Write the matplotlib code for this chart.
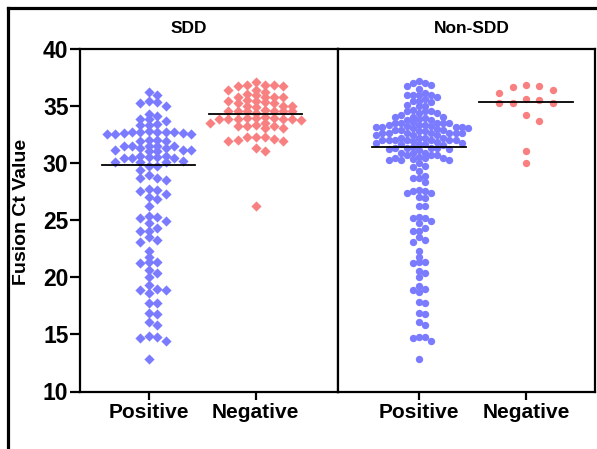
import numpy as np
import matplotlib
matplotlib.use('Agg')
import matplotlib.pyplot as plt
from matplotlib.lines import Line2D

BLUE, RED = '#7B7BFF', '#F88080'
plt.rcParams.update({'font.family': 'Liberation Sans', 'font.weight': 'bold'})

categorias = ['Positive', 'Negative']
paneles = ['SDD', 'Non-SDD']
yticks = [10, 15, 20, 25, 30, 35, 40]

sdd_pos = [
    36.2, 35.9, 35.3, 35.2, 35.4, 35.0, 34.3, 34.1, 33.8, 33.8, 33.7, 33.3, 33.3, 33.4,
    32.7, 32.7, 32.5, 32.5, 32.6, 32.8, 32.7, 32.5, 32.6, 32.7, 32.7,
    32.0, 32.0, 31.9, 31.95,
    31.5, 31.5, 31.5, 31.5, 31.5, 31.3, 31.3,
    31.0, 31.0, 31.1, 31.1, 31.1,
    30.5, 30.5, 30.4, 30.6, 30.6, 30.4, 30.4,
    30.1, 30.1, 30.1, 30.2,
    29.7, 29.7, 29.4, 28.9, 28.7, 28.7, 28.5,
    27.7, 27.25, 27.0, 27.5, 27.6, 26.8, 26.2,
    25.15, 24.9, 25.35, 25.25, 24.7, 24.3, 24.0, 24.0,
    23.5, 23.1, 23.25, 22.3, 21.8, 21.2, 21.3, 21.3,
    20.4, 20.6, 20.0, 19.0, 19.3, 18.9, 18.85, 18.6,
    17.7, 17.75, 16.8, 16.9, 16.1, 15.8,
    14.8, 14.4, 14.85, 14.7, 12.8]

sdd_neg = [
    36.8, 36.8, 37.1, 36.7, 36.8, 36.75,
    36.35, 36.4, 36.2, 36.05,
    35.9, 35.8, 35.8, 35.8,
    35.5, 35.25, 35.4, 35.4, 35.3, 35.75,
    34.95, 34.95, 34.95, 35.2, 34.9,
    34.65, 34.5, 34.5, 34.5, 34.5, 34.5, 34.5, 34.35,
    33.75, 33.9, 33.9, 33.8, 33.85, 33.9, 34.05, 33.8, 33.8, 33.8,
    33.2, 33.2, 33.35, 33.05, 33.5, 33.5, 33.05, 33.2,
    32.3, 32.0, 32.1, 31.9, 32.3, 32.3,
    31.3, 31.0, 31.9, 26.2]

non_pos = [
    37.15, 36.95, 36.95, 36.85, 36.7, 36.45,
    35.95, 36.15, 35.9, 35.9, 35.8, 35.9,
    35.55, 35.4, 35.45, 35.3,
    35.1, 34.95, 35.0,
    34.5, 34.5, 34.5, 34.65, 34.35, 34.2, 34.35,
    33.85, 33.75, 34.05, 34.05, 33.9, 33.75, 34.05,
    33.35, 33.5, 33.55, 33.5, 33.35, 33.5, 33.5, 33.5, 33.35,
    32.9, 33.05, 32.9, 33.05, 32.9, 32.95, 33.15, 33.2, 33.15, 33.2, 33.15, 33.15,
    32.6, 32.6, 32.6, 32.45, 32.45, 32.6, 32.6, 32.6, 32.45, 32.6, 32.75, 32.75,
    32.0, 32.0, 32.2, 32.0, 32.0, 32.0, 32.15, 32.0, 32.2, 32.0, 32.15,
    31.75, 31.65, 31.8, 31.65, 31.65, 31.6, 31.75, 31.9,
    31.3, 31.3, 31.2, 31.3, 31.35, 31.3, 31.2, 31.15,
    30.85, 30.7, 30.7, 30.85, 30.9, 30.7, 30.55, 30.4, 30.4,
    30.25, 30.25, 30.25, 30.3, 30.4,
    29.95, 29.7, 29.6, 29.25,
    28.85, 28.65, 28.65, 28.35,
    27.65, 27.35, 27.5, 27.4, 27.55, 27.05, 26.9,
    26.2, 26.2, 25.15, 24.95, 25.3, 25.15, 24.7, 24.3, 24.0, 24.0,
    23.5, 23.1, 23.25, 22.3, 21.8, 21.2, 21.3, 21.3,
    20.4, 20.5, 20.0, 18.95, 19.2, 18.7, 18.85,
    17.7, 17.8, 16.8, 16.9, 16.1, 15.8,
    14.8, 14.4, 14.8, 14.7, 12.8]

non_neg = [36.85, 36.4, 36.7, 36.1, 36.6, 35.5, 35.2, 35.2, 35.2, 35.6,
           33.7, 34.2, 31.0, 30.0]

# medianas
med_sdd = [29.8, 34.3]
med_non = [31.4, 35.3]


def swarm(vals, dx, dy):
    # columnas discretas: 0, +1, -1, +2, -2 ... sin solaparse en vertical
    vals = np.asarray(vals, float)
    xs = np.zeros(len(vals))
    puestos = []
    for i in np.argsort(-vals, kind='stable'):
        v = vals[i]
        for step in range(80):
            k = ((step + 1) // 2) * (1 if step % 2 else -1)
            if not any(s == k and abs(y - v) < dy for s, y in puestos):
                break
        puestos.append((k, v))
        xs[i] = k * dx
    return xs


def panel(ax, grupos, meds, marker, s, xlim, titulo, tx):
    for j, (vals, col, dx, dy) in enumerate(grupos):
        off = swarm(vals, dx, dy)
        ax.scatter(j + off, vals, marker=marker, s=s, color=col, lw=0, zorder=3)
        ax.plot([j - 0.435, j + 0.435], [meds[j]] * 2, color='black', lw=1.3, zorder=4)
    ax.set_xlim(xlim); ax.set_ylim(10, 40)
    ax.set_xticks([0, 1]); ax.set_xticklabels(categorias, fontsize=15, fontweight='bold')
    for sp in ax.spines.values():
        sp.set_linewidth(1.6)
    ax.tick_params(axis='x', length=5.5, width=1.6, pad=2.5)
    ax.text(tx, 1.035, titulo, transform=ax.transAxes, ha='center', va='bottom',
            fontsize=12.5, fontweight='bold')


fig = plt.figure(figsize=(5.97, 4.49), dpi=100)
ax1 = fig.add_axes([80 / 597, 1 - 391.5 / 449, 258 / 597, 343 / 449])
ax2 = fig.add_axes([338 / 597, 1 - 391.5 / 449, 257 / 597, 343 / 449])

panel(ax1, [(sdd_pos, BLUE, 0.079, 0.5), (sdd_neg, RED, 0.085, 0.45)], med_sdd,
      'D', 27, (-0.645, 1.77), paneles[0], 0.42)
panel(ax2, [(non_pos, BLUE, 0.057, 0.5), (non_neg, RED, 0.126, 0.8)], med_non,
      'o', 28, (-0.757, 1.645), paneles[1], 0.52)

ax1.set_yticks(yticks)
ax1.set_yticklabels([str(t) for t in yticks], fontsize=16.5, fontweight='bold')
ax1.tick_params(axis='y', length=7.5, width=1.6, pad=0.8)
ax2.tick_params(axis='y', left=False, labelleft=False)

fig.text(22 / 597, 1 - 211.5 / 449, 'Fusion Ct Value', rotation=90, ha='center',
         va='center', fontsize=14, fontweight='bold')

# marco de la captura
fig.add_artist(Line2D([8 / 597, 1], [1 - 7.5 / 449] * 2, color='black', lw=2.3))
fig.add_artist(Line2D([8 / 597] * 2, [0, 1 - 7.5 / 449], color='black', lw=2.3))

fig.savefig('out.png', dpi=100)
